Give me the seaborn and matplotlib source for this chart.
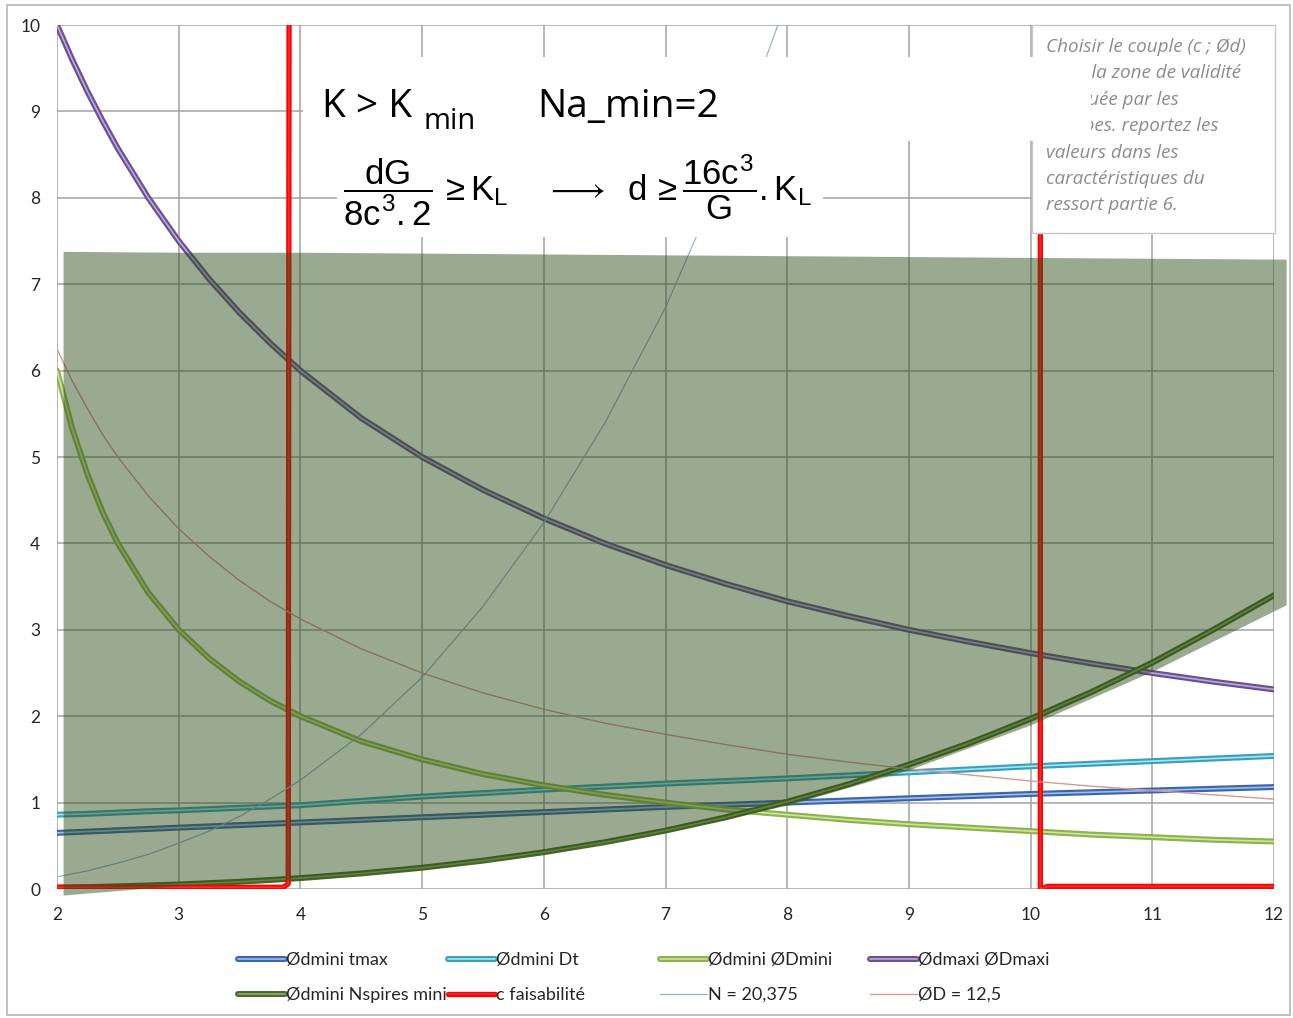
import numpy as np
import pandas as pd
import matplotlib
matplotlib.use("Agg")
import matplotlib.pyplot as plt
import matplotlib.patheffects as pe
from matplotlib.patches import Rectangle
import seaborn as sns

# ---------------- data ----------------
c_vals = [2, 2.125, 2.25, 2.375, 2.5, 2.75, 3, 3.25, 3.5, 3.75, 4, 4.5, 5, 5.5, 6, 6.5,
          7, 7.5, 8, 8.5, 9, 9.5, 10, 10.5, 11, 11.5, 12]
d_tmax = [0.65, 0.657, 0.665, 0.672, 0.68, 0.695, 0.71, 0.725, 0.74, 0.755, 0.77, 0.80,
          0.83, 0.86, 0.89, 0.92, 0.95, 0.975, 1.0, 1.025, 1.05, 1.075, 1.10, 1.12,
          1.14, 1.16, 1.18]
d_dt = [0.86, 0.865, 0.87, 0.877, 0.885, 0.90, 0.91, 0.925, 0.94, 0.955, 0.97, 1.02,
        1.07, 1.11, 1.15, 1.185, 1.22, 1.25, 1.28, 1.315, 1.35, 1.385, 1.42, 1.45,
        1.48, 1.51, 1.54]
d_dmini = [6.0, 5.33, 4.8, 4.36, 4.0, 3.43, 3.0, 2.67, 2.4, 2.18, 2.0, 1.71, 1.5, 1.33,
           1.2, 1.09, 1.0, 0.92, 0.86, 0.8, 0.75, 0.71, 0.67, 0.63, 0.6, 0.57, 0.55]
d_dmaxi = [10.0, 9.6, 9.23, 8.89, 8.57, 8.0, 7.5, 7.06, 6.67, 6.32, 6.0, 5.45, 5.0,
           4.62, 4.29, 4.0, 3.75, 3.53, 3.33, 3.16, 3.0, 2.86, 2.73, 2.61, 2.5, 2.4, 2.31]
d_nspires = [0.016, 0.019, 0.022, 0.026, 0.031, 0.041, 0.053, 0.068, 0.084, 0.104,
             0.126, 0.18, 0.246, 0.328, 0.426, 0.541, 0.676, 0.831, 1.01, 1.21, 1.44,
             1.69, 1.97, 2.28, 2.62, 3.0, 3.40]
d_D125 = [6.25, 5.88, 5.56, 5.26, 5.0, 4.55, 4.17, 3.85, 3.57, 3.33, 3.125, 2.78, 2.5,
          2.27, 2.08, 1.92, 1.79, 1.67, 1.56, 1.47, 1.39, 1.32, 1.25, 1.19, 1.14, 1.09,
          1.04]
n_c = [2, 2.25, 2.5, 2.75, 3, 3.25, 3.5, 3.75, 4, 4.5, 5, 5.5, 6, 6.5, 7, 7.5, 8, 8.5]
n_vals = [0.14, 0.21, 0.30, 0.40, 0.53, 0.67, 0.84, 1.04, 1.26, 1.79, 2.45, 3.27,
          4.24, 5.39, 6.73, 8.35, 10.3, 12.2]
red_c = [2, 3.86, 3.90, 3.91, 10.08, 10.08, 10.14, 12]
red_y = [0.02, 0.02, 0.06, 15, 15, 0.0, 0.03, 0.03]
fill_c = [2.05, 3, 4, 5, 6, 7, 8, 9, 10, 11, 12.1]
fill_top = [7.38, 7.37, 7.37, 7.36, 7.35, 7.34, 7.33, 7.32, 7.31, 7.30, 7.29]
fill_bottom = [-0.07, 0.04, 0.11, 0.23, 0.41, 0.66, 0.97, 1.38, 1.9, 2.52, 3.29]

x_ticks = [2, 3, 4, 5, 6, 7, 8, 9, 10, 11, 12]
y_ticks = [0, 1, 2, 3, 4, 5, 6, 7, 8, 9, 10]

labels = ["Ødmini tmax", "Ødmini Dt", "Ødmini ØDmini", "Ødmaxi ØDmaxi",
          "Ødmini Nspires mini", "c faisabilité", "N = 20,375", "ØD = 12,5"]

note_lines = ["Choisir le couple (c ; Ød)", "dans la zone de validité",
              "indiquée par les", "courbes. reportez les", "valeurs dans les",
              "caractéristiques du", "ressort partie 6."]

# ---------------- style ----------------
sns.set_theme(style="white")
plt.rcParams["font.family"] = ["Lato", "DejaVu Sans"]
plt.rcParams["mathtext.fontset"] = "custom"
plt.rcParams["mathtext.rm"] = "Liberation Sans"
plt.rcParams["mathtext.it"] = "Liberation Sans"
plt.rcParams["mathtext.bf"] = "Liberation Sans:bold"

W, H = 1293, 1018
fig = plt.figure(figsize=(W / 100, H / 100), dpi=100)
L, R, T, B = 57, 1274, 25, 889
ax = fig.add_axes([L / W, 1 - B / H, (R - L) / W, (B - T) / H])


def fx(x):
    return x / W


def fy(y):
    return 1 - y / H


thick = [  # (y, edge, center)
    (d_tmax, "#3b66ad", "#a4bde6"),
    (d_dt, "#34a2bf", "#b2e0ec"),
    (d_dmini, "#8db44a", "#cfe2a6"),
    (d_dmaxi, "#6a4f95", "#bcaad6"),
    (d_nspires, "#4b6a27", "#93ad70"),
]
handles = []
for i, (yv, edge, center) in enumerate(thick):
    df = pd.DataFrame({"c": c_vals, "d": yv})
    sns.lineplot(data=df, x="c", y="d", ax=ax, color=center, lw=1.2,
                 estimator=None, sort=False, legend=False, zorder=3)
    ln = ax.lines[-1]
    ln.set_path_effects([pe.Stroke(linewidth=4.3, foreground=edge), pe.Normal()])
    handles.append(ln)

dfr = pd.DataFrame({"c": red_c, "d": red_y})
sns.lineplot(data=dfr, x="c", y="d", ax=ax, color="#ff2a2a", lw=1.2, estimator=None,
             sort=False, legend=False, zorder=3)
ln = ax.lines[-1]
ln.set_path_effects([pe.Stroke(linewidth=3.8, foreground="#ff0000"), pe.Normal()])
handles.append(ln)

dfn = pd.DataFrame({"c": n_c, "d": n_vals})
sns.lineplot(data=dfn, x="c", y="d", ax=ax, color="#95b3d7", lw=0.9, estimator=None,
             sort=False, legend=False, zorder=3)
handles.append(ax.lines[-1])

dfd = pd.DataFrame({"c": c_vals, "d": d_D125})
sns.lineplot(data=dfd, x="c", y="d", ax=ax, color="#d99694", lw=1.0, estimator=None,
             sort=False, legend=False, zorder=3)
handles.append(ax.lines[-1])

# semi-transparent validity zone drawn above the curves
ax.fill_between(fill_c, fill_bottom, fill_top, color="#2d4e18", alpha=0.48,
                linewidth=0, zorder=4, clip_on=False)

ax.set_xlim(2, 12)
ax.set_ylim(0, 10)
ax.set_xticks(x_ticks)
ax.set_yticks(y_ticks)
ax.set_xlabel("")
ax.set_ylabel("")
ax.grid(True, color="#a3a3a3", lw=1.1)
ax.set_axisbelow(True)
for s in ax.spines.values():
    s.set_visible(False)
ax.tick_params(length=0, labelsize=12.5, colors="#262626")
ax.tick_params(axis="y", pad=12)
ax.tick_params(axis="x", pad=13)
ax.set_facecolor("white")

# outer chart border
fig.add_artist(Rectangle((fx(7), fy(1015)), fx(1290) - fx(7), fy(5) - fy(1015),
                         transform=fig.transFigure, fill=False, ec="#b5b5b5", lw=1.2,
                         zorder=0.5))

# note box at top right
fig.add_artist(Rectangle((fx(1032), fy(233)), fx(1275) - fx(1032), fy(25) - fy(233),
                         transform=fig.transFigure, fc="white", ec="#c8c8c8", lw=1.0,
                         zorder=5))
for k, line in enumerate(note_lines):
    fig.text(fx(1046), fy(47 + 26.4 * k), line, ha="left", va="center",
             fontsize=13.6, style="italic", family=["Open Sans", "DejaVu Sans"],
             color="#8c8c8c", zorder=6)

# formula boxes (white backgrounds)
fig.add_artist(Rectangle((fx(303), fy(141)), fx(1091) - fx(303), fy(57) - fy(141),
                         transform=fig.transFigure, fc="white", ec="none", zorder=7))
fig.add_artist(Rectangle((fx(337), fy(237)), fx(823) - fx(337), fy(141) - fy(237),
                         transform=fig.transFigure, fc="white", ec="none", zorder=7))

fig.text(fx(322), fy(117), "K > K", ha="left", va="baseline", fontsize=28,
         family="Open Sans", color="black", zorder=8)
fig.text(fx(424), fy(129), "min", ha="left", va="baseline", fontsize=21,
         family="Open Sans", color="black", zorder=8)
fig.text(fx(537), fy(117), "Na_min=2", ha="left", va="baseline", fontsize=28,
         family="Open Sans", color="black", zorder=8)
fig.text(fx(577), fy(190),
         r"$\dfrac{dG}{8c^{3}.2}\,\geq K_{L}\quad\;\longrightarrow\;\; d\,\geq\dfrac{16c^{3}}{G}.K_{L}$",
         ha="center", va="center", fontsize=25, color="black", zorder=8)

# legend: 4 columns of 2 rows
col_x = [238, 448, 660, 870]
for j in range(4):
    hs = [handles[j], handles[j + 4]]
    ls = [labels[j], labels[j + 4]]
    fig.legend(hs, ls, loc="upper left", bbox_to_anchor=(fx(col_x[j]), fy(952)),
               frameon=False, fontsize=13, handlelength=2.6, handletextpad=0.05,
               borderpad=0, borderaxespad=0, labelspacing=1.05)

fig.savefig("out.png", dpi=100)
